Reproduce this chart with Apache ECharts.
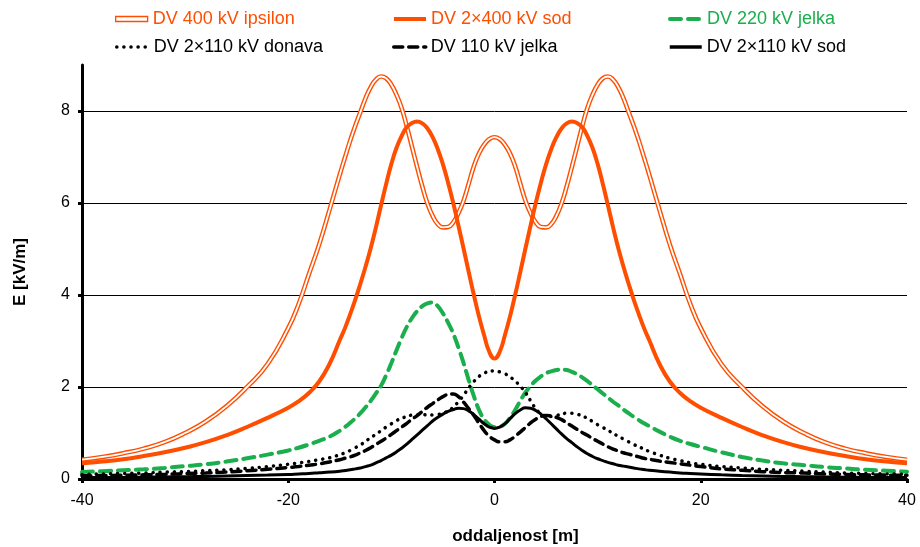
<!DOCTYPE html>
<html>
<head>
<meta charset="utf-8">
<script src="https://cdn.jsdelivr.net/npm/echarts@6/dist/echarts.min.js"></script>
<style>
  html, body { margin: 0; padding: 0; background: #fff; }
  #chart { width: 920px; height: 547px; }
</style>
</head>
<body>
<div id="chart"></div>
<script>
// distance from the line axis [m]
let xs = [-40, -38, -36, -34, -32, -30, -28, -26, -24, -22,
  -20, -19, -18, -17, -16,
  -15, -14.5, -14, -13.5, -13, -12.5, -12, -11.5, -11, -10.5, -10, -9.5, -9, -8.5, -8, -7.5, -7, -6.5, -6, -5.5,
  -5, -4.5, -4, -3.5, -3, -2.5, -2, -1.5, -1, -0.5,
  0,
  0.5, 1, 1.5, 2, 2.5, 3, 3.5, 4, 4.5, 5, 5.5, 6, 6.5, 7, 7.5, 8, 8.5, 9, 9.5, 10,
  10.5, 11, 11.5, 12, 12.5, 13, 13.5, 14, 14.5, 15,
  16, 17, 18, 19, 20,
  22, 24, 26, 28, 30, 32, 34, 36, 38, 40];

// E [kV/m]
let ipsilon400 = [0.42, 0.48, 0.56, 0.66, 0.8, 1.0, 1.25, 1.58, 2.0, 2.5,
  3.28, 3.8, 4.45, 5.1, 5.85,
  6.62, 6.99, 7.35, 7.68, 7.98, 8.28, 8.52, 8.68, 8.75, 8.71, 8.57, 8.35, 8.06, 7.66, 7.22, 6.78, 6.36, 5.99, 5.72, 5.54,
  5.47, 5.48, 5.58, 5.78, 6.05, 6.42, 6.8, 7.08, 7.27, 7.39,
  7.43,
  7.39, 7.27, 7.08, 6.8, 6.42, 6.05, 5.78, 5.58, 5.48, 5.47, 5.54, 5.72, 5.99, 6.36, 6.78, 7.22, 7.66, 8.06, 8.35, 8.57,
  8.71, 8.75, 8.68, 8.52, 8.28, 7.98, 7.68, 7.35, 6.99, 6.62,
  5.85, 5.1, 4.45, 3.8, 3.28,
  2.5, 2.0, 1.58, 1.25, 1.0, 0.8, 0.66, 0.56, 0.48, 0.42];
let sod2x400 = [0.34, 0.38, 0.43, 0.5, 0.58, 0.68, 0.8, 0.95, 1.13, 1.33,
  1.55, 1.69, 1.87, 2.12, 2.5,
  3.02, 3.28, 3.58, 3.9, 4.25, 4.62, 5.02, 5.47, 5.95, 6.42, 6.85, 7.2, 7.46, 7.65, 7.74, 7.77, 7.73, 7.62, 7.43, 7.17,
  6.84, 6.44, 6.0, 5.51, 5.01, 4.5, 4.0, 3.53, 3.12, 2.76,
  2.62,
  2.76, 3.12, 3.53, 4.0, 4.5, 5.01, 5.51, 6.0, 6.44, 6.84, 7.17, 7.43, 7.62, 7.73, 7.77, 7.74, 7.65, 7.46, 7.2, 6.85,
  6.42, 5.95, 5.47, 5.02, 4.62, 4.25, 3.9, 3.58, 3.28, 3.02,
  2.5, 2.12, 1.87, 1.69, 1.55,
  1.33, 1.13, 0.95, 0.8, 0.68, 0.58, 0.5, 0.43, 0.38, 0.34];
let jelka220 = [0.15, 0.17, 0.19, 0.21, 0.24, 0.28, 0.32, 0.38, 0.45, 0.53,
  0.62, 0.68, 0.75, 0.83, 0.92,
  1.05, 1.13, 1.22, 1.32, 1.43, 1.56, 1.7, 1.86, 2.03, 2.26, 2.52, 2.8, 3.07, 3.31, 3.5, 3.65, 3.76, 3.82, 3.84, 3.76,
  3.6, 3.4, 3.16, 2.86, 2.52, 2.15, 1.8, 1.5, 1.3, 1.18,
  1.13,
  1.14, 1.2, 1.33, 1.5, 1.7, 1.88, 2.02, 2.14, 2.23, 2.3, 2.34, 2.37, 2.38, 2.37, 2.33, 2.28, 2.21, 2.13, 2.04, 1.95,
  1.86, 1.77, 1.68, 1.6, 1.51, 1.43, 1.35, 1.28, 1.21, 1.15,
  1.03, 0.92, 0.83, 0.76, 0.7,
  0.58, 0.48, 0.4, 0.34, 0.3, 0.26, 0.23, 0.2, 0.18, 0.16];
let donava2x110 = [0.1, 0.11, 0.12, 0.13, 0.15, 0.16, 0.18, 0.2, 0.23, 0.27,
  0.32, 0.35, 0.38, 0.42, 0.46,
  0.53, 0.57, 0.62, 0.68, 0.74, 0.82, 0.9, 0.97, 1.05, 1.13, 1.2, 1.27, 1.32, 1.36, 1.39, 1.4, 1.4, 1.39, 1.39, 1.4,
  1.43, 1.48, 1.56, 1.68, 1.82, 1.98, 2.12, 2.23, 2.3, 2.34,
  2.35,
  2.33, 2.29, 2.22, 2.13, 2.02, 1.88, 1.7, 1.53, 1.42, 1.37, 1.36, 1.38, 1.41, 1.43, 1.43, 1.41, 1.37, 1.32, 1.25, 1.18,
  1.12, 1.06, 0.99, 0.93, 0.87, 0.81, 0.75, 0.7, 0.65, 0.6,
  0.52, 0.45, 0.4, 0.35, 0.32,
  0.27, 0.24, 0.21, 0.19, 0.17, 0.15, 0.13, 0.12, 0.11, 0.1];
let jelka110 = [0.07, 0.075, 0.08, 0.09, 0.1, 0.12, 0.13, 0.15, 0.18, 0.21,
  0.25, 0.27, 0.3, 0.33, 0.37,
  0.42, 0.45, 0.48, 0.52, 0.57, 0.62, 0.68, 0.75, 0.82, 0.89, 0.97, 1.05, 1.13, 1.21, 1.3, 1.38, 1.47, 1.56, 1.64, 1.72,
  1.79, 1.84, 1.85, 1.79, 1.67, 1.53, 1.38, 1.21, 1.05, 0.93,
  0.85,
  0.81, 0.81, 0.85, 0.93, 1.02, 1.12, 1.22, 1.3, 1.36, 1.38, 1.37, 1.34, 1.29, 1.22, 1.15, 1.08, 1.01, 0.95, 0.88, 0.82,
  0.76, 0.7, 0.65, 0.61, 0.57, 0.54, 0.51, 0.48, 0.45, 0.43,
  0.39, 0.36, 0.33, 0.3, 0.27,
  0.22, 0.19, 0.16, 0.14, 0.13, 0.11, 0.1, 0.09, 0.085, 0.08];
let sod2x110 = [0.03, 0.03, 0.035, 0.04, 0.045, 0.05, 0.055, 0.065, 0.075, 0.085,
  0.1, 0.11, 0.12, 0.135, 0.15,
  0.17, 0.185, 0.2, 0.22, 0.24, 0.27, 0.3, 0.35, 0.4, 0.46, 0.52, 0.59, 0.67, 0.76, 0.86, 0.96, 1.06, 1.16, 1.26, 1.34,
  1.41, 1.47, 1.51, 1.54, 1.53, 1.48, 1.4, 1.3, 1.2, 1.13,
  1.1,
  1.13, 1.2, 1.31, 1.42, 1.5, 1.55, 1.54, 1.49, 1.41, 1.31, 1.2, 1.09, 0.98, 0.88, 0.79, 0.7, 0.62, 0.55, 0.49, 0.44,
  0.4, 0.36, 0.33, 0.3, 0.28, 0.26, 0.24, 0.22, 0.205, 0.19,
  0.17, 0.15, 0.13, 0.12, 0.11,
  0.09, 0.075, 0.065, 0.055, 0.05, 0.045, 0.04, 0.035, 0.03, 0.03];

let yTicks = [0, 2, 4, 6, 8];

const ORANGE = "#ff4e00";
const GREEN = "#1aae4c";
const FONT = "Liberation Sans";

function pairs(vals) {
  return xs.map((x, i) => [x, vals[i]]);
}

function lineSeries(name, vals, color, width, type, z) {
  return {
    name: name,
    type: "line",
    data: pairs(vals),
    smooth: 0.5,
    symbol: "none",
    clip: false,
    z: z,
    lineStyle: { color: color, width: width, type: type, cap: type === "solid" ? "butt" : "round" },
    itemStyle: { color: color },
  };
}

// one legend per slot so the two rows line up in columns
function legendAt(name, left, top, color, lineWidth, extra) {
  let item = { name: name };
  if (extra) Object.assign(item, extra);
  return {
    data: [item],
    left: left,
    top: top,
    padding: 0,
    itemWidth: 32,
    itemHeight: extra ? 5 : 4,
    itemStyle: extra ? undefined : { opacity: 0 },
    lineStyle: { width: lineWidth },
    textStyle: { color: color, fontSize: 18, fontFamily: FONT },
  };
}

let myChart = echarts.init(document.getElementById("chart"));
let option = {
  animation: false,
  backgroundColor: "#fff",
  legend: [
    legendAt("DV 400 kV ipsilon", 115, 10, ORANGE, 1,
      { icon: "rect", itemStyle: { color: "#fff", borderColor: ORANGE, borderWidth: 1.3 } }),
    legendAt("DV 2×400 kV sod", 392, 10, ORANGE, 4),
    legendAt("DV 220 kV jelka", 668, 10, GREEN, 4),
    legendAt("DV 2×110 kV donava", 115, 38, "#000", 3.5),
    legendAt("DV 110 kV jelka", 392, 38, "#000", 3.5),
    legendAt("DV 2×110 kV sod", 668, 38, "#000", 3.5),
  ],
  grid: { left: 82, right: 13, top: 65, bottom: 68, outerBoundsMode: "none" },
  xAxis: {
    type: "value",
    min: -40,
    max: 40,
    interval: 20,
    name: "oddaljenost [m]",
    nameLocation: "middle",
    nameGap: 49,
    nameTextStyle: { color: "#000", fontSize: 17, fontWeight: "bold", fontFamily: FONT, padding: [0, 0, 0, 42] },
    axisLine: { onZero: false, lineStyle: { color: "#000", width: 3 } },
    axisTick: { show: true, length: 4, lineStyle: { color: "#000", width: 3 } },
    axisLabel: { color: "#000", fontSize: 16, fontFamily: FONT, margin: 14 },
    splitLine: { show: false },
  },
  yAxis: {
    type: "value",
    min: 0,
    max: 9,
    interval: 2,
    name: "E [kV/m]",
    nameLocation: "middle",
    nameGap: 53,
    nameTextStyle: { color: "#000", fontSize: 17, fontWeight: "bold", fontFamily: FONT },
    axisLine: { show: true, onZero: false, lineStyle: { color: "#000", width: 3 } },
    axisTick: { show: true, length: 4, customValues: yTicks, lineStyle: { color: "#000", width: 3 } },
    axisLabel: { color: "#000", fontSize: 16, fontFamily: FONT, margin: 12, customValues: yTicks },
    splitLine: {
      show: true,
      lineStyle: { color: ["#000", "#000", "#000", "#000", "#000", "rgba(0,0,0,0)"], width: 1 },
    },
  },
  series: [
    lineSeries("DV 400 kV ipsilon", ipsilon400, ORANGE, 4.6, "solid", 2),
    lineSeries("ipsilon_core", ipsilon400, "#fff", 1.8, "solid", 3),
    lineSeries("DV 2×400 kV sod", sod2x400, ORANGE, 4, "solid", 4),
    lineSeries("DV 220 kV jelka", jelka220, GREEN, 4, [11, 7], 5),
    lineSeries("DV 2×110 kV donava", donava2x110, "#000", 3.5, [0.1, 7], 6),
    lineSeries("DV 110 kV jelka", jelka110, "#000", 3.5, [9, 6], 7),
    lineSeries("DV 2×110 kV sod", sod2x110, "#000", 3, "solid", 8),
  ],
};
myChart.setOption(option);
</script>
</body>
</html>
